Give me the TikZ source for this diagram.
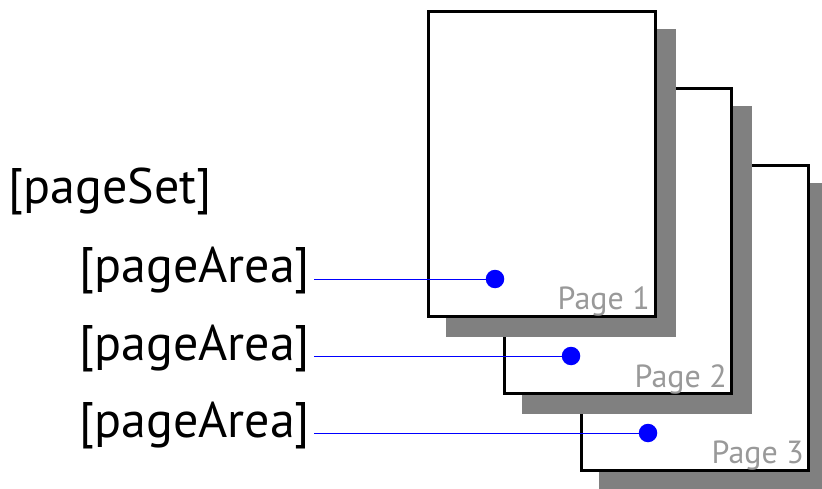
\documentclass[tikz,border=0pt]{standalone}
\usepackage{fontspec}
\setmainfont{PT Sans}
\usetikzlibrary{shadows}

\begin{document}
\begin{tikzpicture}[x=1pt,y=-1pt,
  page/.style={draw, line width=3pt, fill=white, minimum width=227pt, minimum height=305pt, inner sep=0pt,
    drop shadow={shadow xshift=19pt, shadow yshift=-19pt, opacity=1, fill=black!50, draw=black!50}},
  tag/.style={anchor=base west, inner sep=0pt, font=\fontsize{50}{54}\selectfont},
  pagenum/.style={anchor=base east, inner sep=0pt, text=black!40, font=\fontsize{32}{35}\selectfont},
  area/.style={circle, fill=blue, minimum size=18.5pt, inner sep=0pt},
  link/.style={draw=blue, line width=0.9pt}]
\useasboundingbox (0,0) rectangle (822,489);
\clip (0,0) rectangle (822,489);
\node[page] (p3) at (695,318) {};
\node[page] (p2) at (618,241) {};
\node[page] (p1) at (542,164) {};
\node[pagenum] (n1) at ([shift={(-7pt,9pt)}]p1.south east) {Page 1};
\node[pagenum] (n2) at ([shift={(-6pt,8pt)}]p2.south east) {Page 2};
\node[pagenum] (n3) at ([shift={(-6pt,9pt)}]p3.south east) {Page 3};
\node[area] (d1) at (495,279) {};
\node[area] (d2) at (571,356) {};
\node[area] (d3) at (648,433) {};
\node[tag] (set) at (8,204) {[pageSet]};
\node[tag] (a1) at (79,283) {[pageArea]};
\node[tag] (a2) at (79,360) {[pageArea]};
\node[tag] (a3) at (79,437) {[pageArea]};
\draw[link] ([xshift=4pt]a1.east |- d1) -- (d1);
\draw[link] ([xshift=4pt]a2.east |- d2) -- (d2);
\draw[link] ([xshift=4pt]a3.east |- d3) -- (d3);
\end{tikzpicture}
\end{document}
